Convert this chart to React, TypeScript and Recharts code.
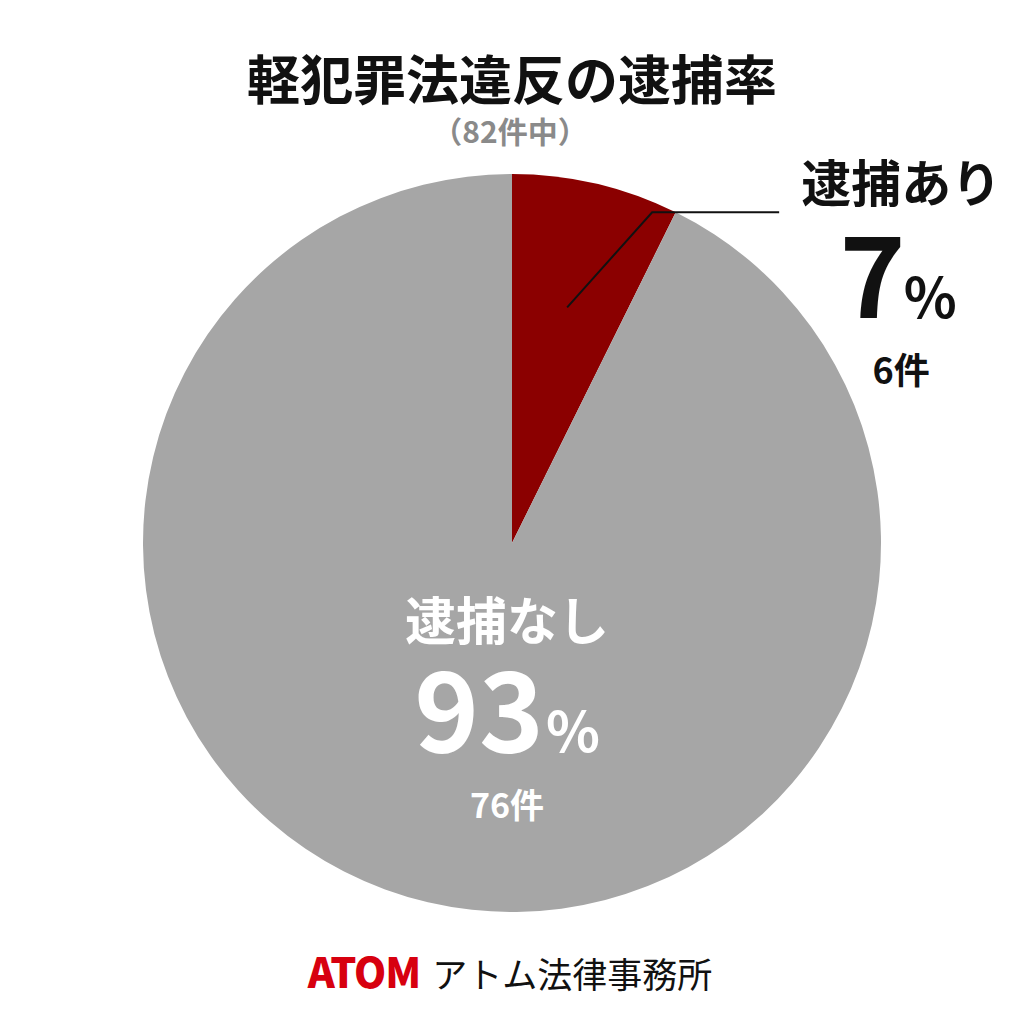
import { PieChart, Pie, Cell } from 'recharts';

const names = ['逮捕あり', '逮捕なし'];
const counts = [6, 76];
const COLORS = ['#8b0000', '#a6a6a6'];
const title = '軽犯罪法違反の逮捕率';
const subtitle = '（82件中）';

const data = names.map((name, i) => ({ name, value: counts[i] }));
const total = counts.reduce((a, b) => a + b, 0);
const RAD = Math.PI / 180;
const FONT = '"Noto Sans CJK JP", "Noto Sans", sans-serif';

function renderLabel(props: any) {
  const { cx, cy, midAngle, outerRadius, index, name, value } = props;
  const pct = Math.round((value / total) * 100);
  if (index === 0) {
    const r = outerRadius * 0.656;
    const sx = cx + r * Math.cos(-midAngle * RAD);
    const sy = cy + r * Math.sin(-midAngle * RAD);
    const bx = sx + 85;
    const by = sy - 95;
    const ex = bx + 127;
    const tx = ex + 122;
    return (
      <g>
        <polyline points={`${sx},${sy} ${bx},${by} ${ex},${by}`} fill="none" stroke="#111" strokeWidth={2} />
        <text x={tx} y={by - 10} textAnchor="middle" fontFamily={FONT} fontWeight={700} fontSize={50} fill="#111">{name}</text>
        <text x={tx - 3} y={by + 106} textAnchor="middle" fontFamily={FONT} fontWeight={700} fill="#111">
          <tspan fontSize={112}>{pct}</tspan>
          <tspan fontSize={55} dx={-2}>%</tspan>
        </text>
        <text x={tx} y={by + 172} textAnchor="middle" fontFamily={FONT} fontWeight={700} fontSize={36} fill="#111">{value}件</text>
      </g>
    );
  }
  const tx = cx - 5;
  return (
    <g>
      <text x={tx} y={cy + 97} textAnchor="middle" fontFamily={FONT} fontWeight={700} fontSize={51} fill="#fff">{name}</text>
      <text x={tx} y={cy + 209} textAnchor="middle" fontFamily={FONT} fontWeight={700} fill="#fff">
        <tspan fontSize={110}>{pct}</tspan>
        <tspan fontSize={56} dx={2}>%</tspan>
      </text>
      <text x={tx} y={cy + 275} textAnchor="middle" fontFamily={FONT} fontWeight={700} fontSize={34} fill="#fff">{value}件</text>
    </g>
  );
}

export default function App() {
  return (
    <div style={{ position: 'absolute', left: 0, top: 0, width: 1024, height: 1024, background: '#fff' }}>
      <PieChart
        width={1024}
        height={1024}
        margin={{ top: 0, right: 0, bottom: 0, left: 0 }}
        style={{ position: 'absolute', left: 0, top: 0 }}
      >
        <Pie
          data={data}
          dataKey="value"
          nameKey="name"
          cx={512}
          cy={543}
          outerRadius={369}
          startAngle={90}
          endAngle={-270}
          stroke="none"
          label={renderLabel}
          labelLine={false}
          isAnimationActive={false}
        >
          {data.map((_, i) => <Cell key={i} fill={COLORS[i]} />)}
        </Pie>
      </PieChart>
      <svg width={1024} height={1024} style={{ position: 'absolute', left: 0, top: 0, pointerEvents: 'none' }}>
        <text x={512} y={100} textAnchor="middle" fontFamily={FONT} fontWeight={700} fontSize={53} fill="#111">{title}</text>
        <text x={510} y={143} textAnchor="middle" fontFamily={FONT} fontWeight={700} fontSize={30} fill="#8a8a8a">{subtitle}</text>
        <text x={510} y={988} textAnchor="middle" fontFamily={FONT}>
          <tspan fontWeight={900} fontSize={41} fill="#d7000f" letterSpacing={-1}>ATOM</tspan>
          <tspan fontWeight={400} fontSize={35} fill="#111" dx={12}>アトム法律事務所</tspan>
        </text>
      </svg>
    </div>
  );
}
